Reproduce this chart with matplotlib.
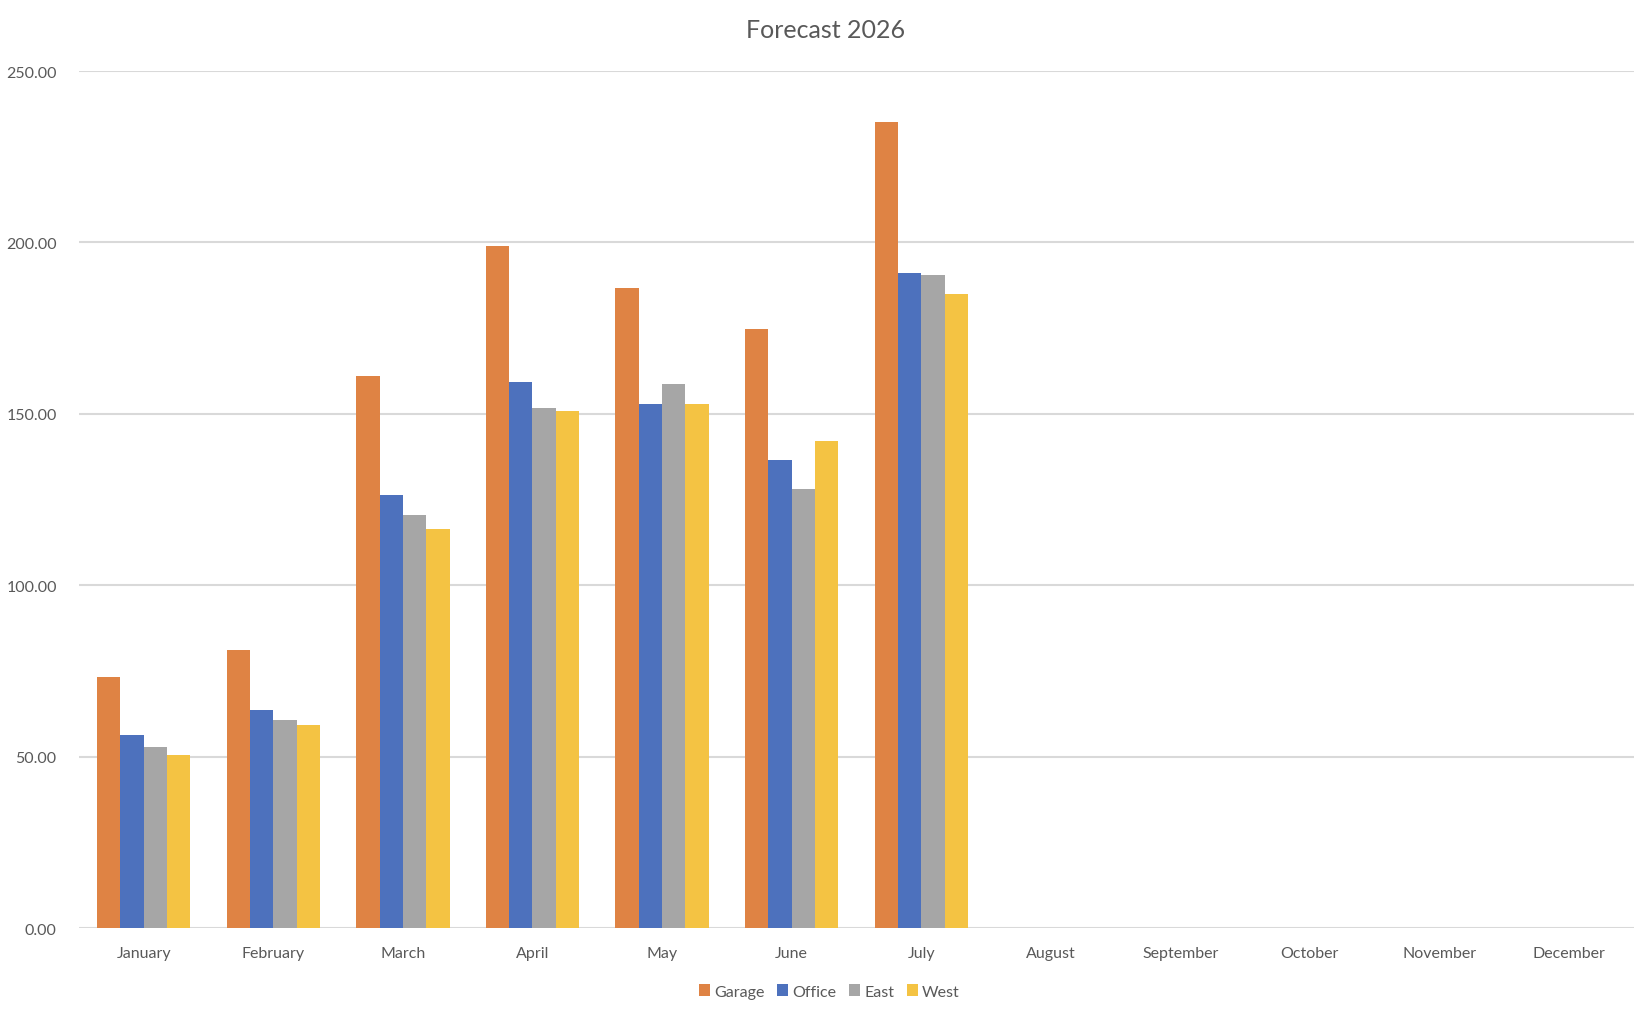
import numpy as np
import matplotlib.pyplot as plt

months = ['January', 'February', 'March', 'April', 'May', 'June', 'July',
          'August', 'September', 'October', 'November', 'December']
series = ['Garage', 'Office', 'East', 'West']
colors = ['#DF8344', '#4D71BD', '#A6A6A6', '#F4C343']

# values (Aug-Dec empty)
garage = [73.2, 81.1, 161.0, 199.0, 186.8, 174.8, 235.0]
office = [56.3, 63.6, 126.2, 159.3, 152.8, 136.5, 191.1]
east = [52.8, 60.7, 120.4, 151.7, 158.7, 128.0, 190.6]
west = [50.5, 59.2, 116.3, 150.8, 152.8, 142.0, 185.0]

plt.rcParams['font.family'] = ['Lato', 'DejaVu Sans']

fig = plt.figure(figsize=(16.52, 10.2), dpi=100)
ax = fig.add_axes([0.0478, 0.0892, 0.9412, 0.8402])

x = np.arange(len(months))
w = 0.18
for i, (name, vals) in enumerate(zip(series, [garage, office, east, west])):
    xs = x[:len(vals)] + (i - 1.5) * w
    ax.bar(xs, vals, width=w, color=colors[i], label=name, zorder=3)

ax.set_xlim(-0.5, len(months) - 0.5)
ax.set_ylim(0, 250)
ax.set_yticks(np.arange(0, 251, 50))
ax.set_yticklabels([f'{v:.2f}' for v in np.arange(0, 251, 50)])
ax.set_xticks(x)
ax.set_xticklabels(months)
ax.grid(axis='y', color='#D9D9D9', linewidth=1.5, zorder=0)
for s in ax.spines.values():
    s.set_visible(False)
ax.tick_params(axis='both', length=0, labelsize=11.5, colors='#595959')
ax.tick_params(axis='y', pad=16)
ax.tick_params(axis='x', pad=13)

fig.suptitle('Forecast 2026', y=0.981, fontsize=18, color='#595959')
leg = fig.legend(loc='center', bbox_to_anchor=(0.502, 0.027), ncol=4,
                 frameon=False, fontsize=11.5, handlelength=0.7,
                 handleheight=0.7, handletextpad=0.25, columnspacing=0.8)
for t in leg.get_texts():
    t.set_color('#595959')

fig.savefig('out.png', dpi=100)
